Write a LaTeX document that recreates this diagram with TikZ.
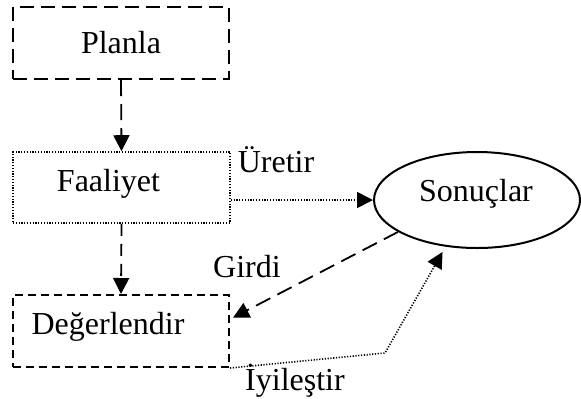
\documentclass[tikz,border=0pt]{standalone}
\usepackage{fontspec}
\setmainfont{Liberation Serif}
\usetikzlibrary{arrows.meta,shapes.geometric}

\begin{document}
\begin{tikzpicture}[x=0.5pt,y=-0.5pt,
    font=\fontsize{16}{19}\selectfont,
    kutu/.style={draw,rectangle,minimum width=108pt,minimum height=36pt,inner sep=0pt},
    uzun/.style={line width=1pt,dash pattern=on 7pt off 3.5pt},
    kisa/.style={line width=1pt,dash pattern=on 4pt off 2.5pt},
    nokta/.style={line width=0.8pt,dash pattern=on 0.6pt off 0.8pt},
    ok/.style={-{Triangle[length=8pt,width=8pt]}}]
                    \useasboundingbox (0,0) rectangle (581,398);
                    \node[kutu,uzun] (plan) at (121,43) {Planla};
                    \node[kutu,nokta,minimum width=108.5pt,minimum height=35.5pt,
                        label={[xshift=-6.5pt,yshift=2pt]center:Faaliyet}] (faal) at (121.5,187.5) {};
                    \node[kutu,kisa,label={[xshift=-6.5pt,yshift=2pt]center:Değerlendir}] (deger) at (121,331) {};
                    \node[draw,ellipse,line width=1pt,minimum width=103pt,minimum height=48pt] (sonuc) at (477,200) {};
                    \node at (476,194) {Sonuçlar};
                    \draw[uzun,line width=0.9pt,ok,dash pattern=on 8pt off 4pt] (plan.south) -- (faal.north);
                    \draw[uzun,line width=0.9pt,ok,dash pattern=on 6pt off 4pt] (faal.south) -- (deger.north);
                    \draw[nokta,ok] (sonuc.west -| faal.east) -- (sonuc.west);
                    \node (uretir) at (276,160) {Üretir};
                    \draw[uzun,line width=0.9pt,ok,dash pattern=on 8pt off 4pt] (sonuc.202) -- ([xshift=1.5pt]deger.7);
                    \node (girdi) at (247,267) {Girdi};
                    \coordinate (kirik) at (385,353);
                    \draw[nokta,ok,shorten >=3pt] (deger.south east) -- (kirik) -- (sonuc.236);
                    \node (iyiles) at (295,381) {İyileştir};
                \end{tikzpicture}
\end{document}
